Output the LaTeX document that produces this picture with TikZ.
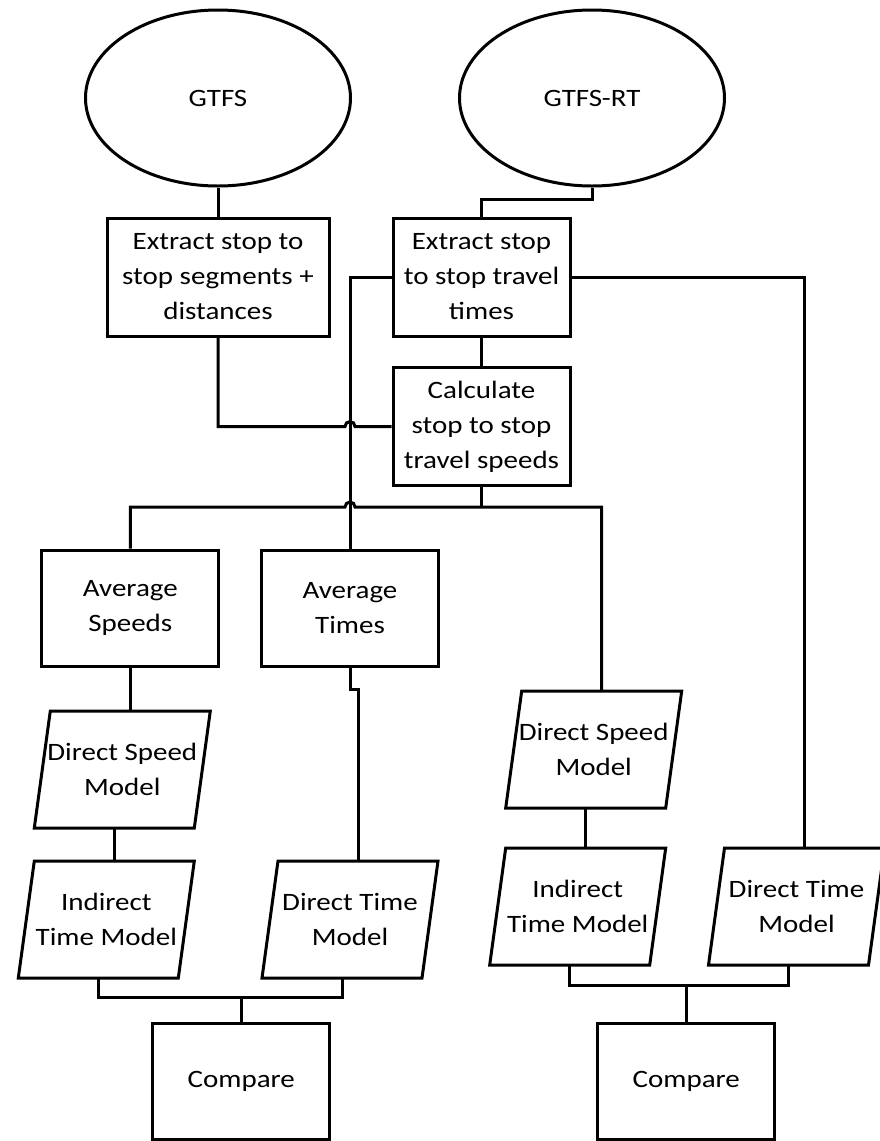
\documentclass[tikz,border=0pt]{standalone}
\usepackage{fontspec}
\setmainfont{Carlito}[FakeStretch=1.16]
\usetikzlibrary{shapes.geometric}

\begin{document}
\begin{tikzpicture}[x=1pt, y=-1pt]

    % --- Styles ---
    \tikzset{
        % Basis fuer alle Bausteine
        component/.style={
            draw,
            line width=3pt,
            font=\fontsize{25}{35}\selectfont,
            align=center,
            inner sep=0pt
        },
        % Datenquellen
        source/.style={
            component,
            ellipse,
            minimum width=265pt,
            minimum height=176pt
        },
        % Verarbeitungsschritte
        process/.style={
            component,
            rectangle,
            minimum width=177pt,
            minimum height=118pt
        },
        % Modelle (Parallelogramm, Rahmen wird nachgezeichnet)
        model/.style={
            component,
            draw=none,
            rectangle,
            outer sep=0pt,
            minimum width=160pt,
            minimum height=117pt,
            append after command={
                \pgfextra{\let\modelnode=\tikzlastnode}
                \pgfextra{\draw[line width=3pt, line join=miter]
                    ([xshift=-8pt]\modelnode.south west) -- ([xshift=8pt]\modelnode.north west)
                    -- ([xshift=8pt]\modelnode.north east) -- ([xshift=-8pt]\modelnode.south east)
                    -- cycle;}
            }
        },
        % Verbindungslinien
        link/.style={
            line width=3pt
        }
    }

    \useasboundingbox (0,0) rectangle (879,1141);

    % --- 1. Quellen und Vorverarbeitung ---
    \node[source] (gtfs) at (218, 98) {GTFS};
    \node[source] (gtfsrt) at (592, 98) {GTFS-RT};

    \node[process, minimum width=222pt] (segments) at (218, 277) {Extract stop to\\stop segments +\\distances};
    \node[process] (times) at (481.5, 277) {Extract stop\\to stop travel\\times};
    \node[process] (speeds) at (481.5, 426.5) {Calculate\\stop to stop\\travel speeds};

    % --- 2. Mittelwerte ---
    \node[process, minimum height=116pt] (avgspeeds) at (130.3, 608) {Average\\Speeds};
    \node[process, minimum height=116pt] (avgtimes) at (350, 608) {Average\\Times};

    % --- 3. Modelle ---
    \node[model] (dsL) at (122.3, 769.5) {Direct Speed\\Model};
    \node[model] (itL) at (106.3, 919.5) {Indirect\\Time Model};
    \node[model] (dtL) at (350, 919.5) {Direct Time\\Model};

    \node[model] (dsR) at (593.7, 749.5) {Direct Speed\\Model};
    \node[model] (itR) at (577.7, 906.5) {Indirect\\Time Model};
    \node[model] (dtR) at (796.5, 906.5) {Direct Time\\Model};

    % --- 4. Vergleich ---
    \node[process, minimum height=116pt] (compareL) at (241.3, 1081) {Compare};
    \node[process, minimum height=116pt] (compareR) at (686.3, 1081) {Compare};

    % --- 5. Verbindungen ---
    \draw[link] (gtfs.south) -- (segments.north);
    \draw[link] (gtfsrt.south) -- ++(0,12) -| (times.north);
    \draw[link] (times.south) -- (speeds.north);

    % Linie mit Sprung ueber die Senkrechte
    \draw[link] (segments.south) |- ([xshift=-5pt]avgtimes.north |- speeds.west)
        arc[start angle=180, end angle=0, radius=5pt] -- (speeds.west);
    \draw[link] (times.west) -| (avgtimes.north);
    \draw[link] (times.east) -| ([xshift=8pt]dtR.north);

    \draw[link] (speeds.south) -- ++(0,20) coordinate (fork);
    \draw[link] (avgspeeds.north) |- ([xshift=-5pt]avgtimes.north |- fork)
        arc[start angle=180, end angle=0, radius=5pt] -| ([xshift=8pt]dsR.north);

    \draw[link] (avgspeeds.south) -- ([xshift=8pt]dsL.north);
    \draw[link] ([xshift=-8pt]dsL.south) -- ([xshift=8pt]itL.north);
    \draw[link] (avgtimes.south) -- ++(0,22) -| ([xshift=8pt]dtL.north);
    \draw[link] ([xshift=-8pt]dsR.south) -- ([xshift=8pt]itR.north);

    \draw[link] (compareL.north) -- ++(0,-24) coordinate (joinL);
    \draw[link] ([xshift=-8pt]itL.south) |- (joinL) -| ([xshift=-8pt]dtL.south);
    \draw[link] (compareR.north) -- ++(0,-36) coordinate (joinR);
    \draw[link] ([xshift=-8pt]itR.south) |- (joinR) -| ([xshift=-8pt]dtR.south);

\end{tikzpicture}
\end{document}
